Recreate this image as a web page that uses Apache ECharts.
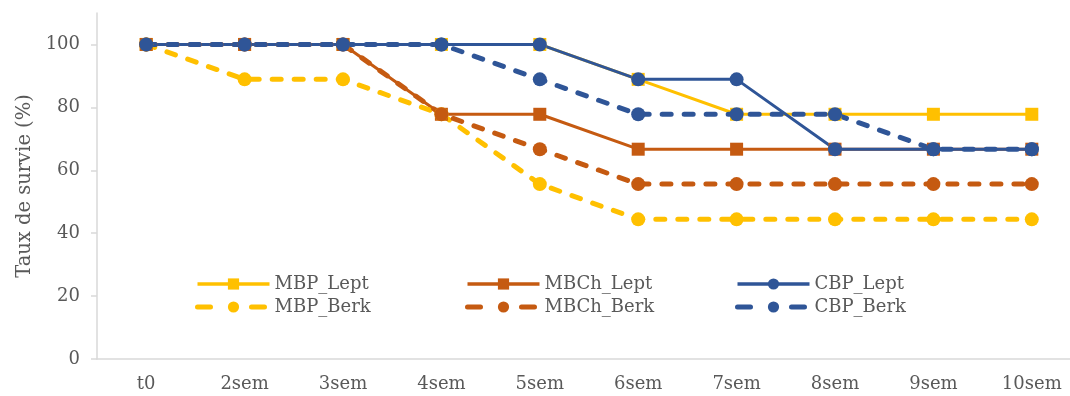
<!DOCTYPE html>
<html>
<head>
<meta charset="utf-8">
<script src="https://cdn.jsdelivr.net/npm/echarts@6/dist/echarts.min.js"></script>
<style>
  html, body { margin: 0; padding: 0; background: #fff; }
  #chart { width: 1070px; height: 396px; }
</style>
</head>
<body>
<div id="chart"></div>
<script>
var weeks = ['t0', '2sem', '3sem', '4sem', '5sem', '6sem', '7sem', '8sem', '9sem', '10sem'];
var mbpLept  = [100, 100, 100, 100, 100, 88.9, 77.8, 77.8, 77.8, 77.8];
var mbchLept = [100, 100, 100, 77.8, 77.8, 66.7, 66.7, 66.7, 66.7, 66.7];
var cbpLept  = [100, 100, 100, 100, 100, 88.9, 88.9, 66.7, 66.7, 66.7];
var mbpBerk  = [100, 88.9, 88.9, 77.8, 55.6, 44.4, 44.4, 44.4, 44.4, 44.4];
var mbchBerk = [100, 100, 100, 77.8, 66.7, 55.6, 55.6, 55.6, 55.6, 55.6];
var cbpBerk  = [100, 100, 100, 100, 88.9, 77.8, 77.8, 77.8, 66.7, 66.7];
var yTicks = [0, 20, 40, 60, 80, 100];

var yellow = '#FFC000', orange = '#C55A11', blue = '#2F5597';
var font = 'DejaVu Serif';
var grey = '#595959';

function solid(name, data, color, symbol) {
    return {
        name: name, type: 'line', data: data,
        symbol: symbol, symbolSize: symbol == 'rect' ? 13 : 14,
        lineStyle: {color: color, width: 3},
        itemStyle: {color: color}
    };
}
function dashed(name, data, color) {
    return {
        name: name, type: 'line', data: data,
        symbol: 'circle', symbolSize: 14,
        lineStyle: {color: color, width: 5, type: [9, 13], cap: 'round'},
        itemStyle: {color: color}
    };
}
// legend: one column per group, solid line on top, dashed below
function legendAt(left, solidName, dashName) {
    return {
        orient: 'vertical', left: left, top: 270,
        itemWidth: 72, itemHeight: 14, itemGap: 5,
        data: [
            {name: solidName, lineStyle: {width: 3.5}},
            {name: dashName, lineStyle: {width: 5, type: [13, 41], cap: 'round'}}
        ],
        textStyle: {fontFamily: font, fontSize: 18, color: grey, lineHeight: 18}
    };
}

var chart = echarts.init(document.getElementById('chart'));
chart.setOption({
    animation: false,
    grid: {left: 97, top: 13, width: 984, bottom: 37, containLabel: false, outerBoundsMode: 'none'},
    legend: [
        legendAt(190, 'MBP_Lept', 'MBP_Berk'),
        legendAt(460, 'MBCh_Lept', 'MBCh_Berk'),
        legendAt(730, 'CBP_Lept', 'CBP_Berk')
    ],
    xAxis: {
        type: 'category', data: weeks, boundaryGap: true,
        axisLine: {lineStyle: {color: '#d9d9d9', width: 1.5}},
        axisTick: {length: 6, lineStyle: {color: '#d9d9d9', width: 1.5}},
        axisLabel: {fontFamily: font, fontSize: 18, color: grey, margin: 16}
    },
    yAxis: {
        type: 'value', min: 0, max: 110, interval: 20,
        name: 'Taux de survie (%)', nameLocation: 'middle', nameGap: 62,
        nameTextStyle: {fontFamily: font, fontSize: 19.5, color: grey},
        axisLine: {show: true, lineStyle: {color: '#d9d9d9', width: 1.5}},
        axisTick: {show: true, length: 6, customValues: yTicks, lineStyle: {color: '#d9d9d9', width: 1.5}},
        axisLabel: {fontFamily: font, fontSize: 18, color: grey, margin: 17, customValues: yTicks},
        splitLine: {show: false}
    },
    series: [
        solid('MBP_Lept', mbpLept, yellow, 'rect'),
        solid('MBCh_Lept', mbchLept, orange, 'rect'),
        solid('CBP_Lept', cbpLept, blue, 'circle'),
        dashed('MBP_Berk', mbpBerk, yellow),
        dashed('MBCh_Berk', mbchBerk, orange),
        dashed('CBP_Berk', cbpBerk, blue)
    ]
});
</script>
</body>
</html>
